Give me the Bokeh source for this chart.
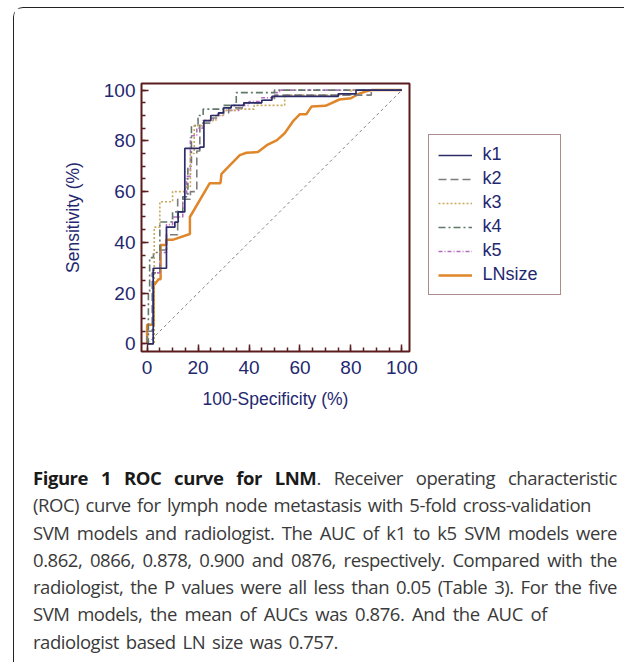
from bokeh.plotting import figure
from bokeh.layouts import column, row
from bokeh.models import Range1d, SingleIntervalTicker, Legend, LegendItem, Div
from bokeh.embed import file_html
from bokeh.resources import INLINE

# ---------------- data ----------------
tick_values = [0, 20, 40, 60, 80, 100]

k1_x = [0, 2.4, 2.4, 7.6, 7.6, 10.9, 10.9, 12.2, 12.2, 14.8, 14.8, 20.7, 20.7, 22.3, 22.3, 25, 25, 28, 28, 30, 30, 33, 33, 38, 38, 45, 45, 49, 49, 75, 75, 82, 82, 88, 100]
k1_y = [0, 0, 29.8, 29.8, 46, 46, 48, 48, 52, 52, 77, 77, 77.5, 77.5, 88, 88, 90, 90, 91, 91, 93, 93, 94, 94, 95, 95, 96, 96, 97.5, 97.5, 98.5, 98.5, 100, 100, 100]

k2_x = [0, 0, 2, 2, 5, 5, 7.6, 7.6, 12, 12, 17, 17, 19.5, 19.5, 20.7, 20.7, 25, 25, 28, 28, 32, 32, 38, 38, 45, 45, 50, 50, 88, 88, 100]
k2_y = [0, 5, 5, 28, 28, 37, 37, 43, 43, 57, 57, 60, 60, 76, 76, 87, 87, 89, 89, 91, 91, 93, 93, 95, 95, 96, 96, 98, 98, 100, 100]

k3_x = [0, 2.8, 2.8, 5, 5, 10, 10, 15, 15, 17, 17, 18.5, 18.5, 22, 22, 27, 27, 30, 30, 35, 35, 42, 42, 54, 54, 80, 80, 100]
k3_y = [0, 0, 46, 46, 56, 56, 60, 60, 62, 62, 75, 75, 86, 86, 88, 88, 90, 90, 92, 92, 92.5, 92.5, 94, 94, 98, 98, 100, 100]

k4_x = [0, 0.5, 0.5, 1, 1, 2.5, 2.5, 5, 5, 10, 10, 14, 14, 16, 16, 17.4, 17.4, 20, 20, 22, 22, 30, 30, 35, 35, 50, 50, 100]
k4_y = [0, 0, 20, 20, 34, 34, 36, 36, 48, 48, 52, 52, 58, 58, 70, 70, 86, 86, 90, 90, 92.5, 92.5, 94, 94, 99, 99, 100, 100]

k5_x = [0, 2.4, 2.4, 5, 5, 7.6, 7.6, 10, 10, 14, 14, 15.5, 15.5, 17, 17, 19.5, 19.5, 22, 22, 26, 26, 30, 30, 36, 36, 40, 40, 45, 45, 50, 50, 52, 52, 100]
k5_y = [0, 0, 28, 28, 36, 36, 47, 47, 50, 50, 58, 58, 66, 66, 82, 82, 85, 85, 88, 88, 90, 90, 92, 92, 94, 94, 95.5, 95.5, 97, 97, 99, 99, 100, 100]

ln_x = [0, 0, 2.6, 2.6, 4.5, 5.3, 5.3, 7.5, 7.5, 10, 16.8, 16.8, 24.6, 28.8, 29.2, 36.4, 39, 43.5, 47, 51, 54, 57.5, 60, 62.5, 64.5, 70, 75.5, 80, 83, 86, 88, 100]
ln_y = [0, 7.5, 7.5, 23, 25.5, 25.5, 39, 39, 41, 41, 43.3, 50, 63.3, 63.3, 67, 74.4, 75.3, 75.6, 78.3, 80.3, 83, 88, 90.5, 90.5, 93.5, 93.8, 96.3, 96.8, 98.5, 99.5, 100, 100]

diag_x = [0, 100]
diag_y = [0, 100]

series_names = ["k1", "k2", "k3", "k4", "k5", "LNsize"]

caption_bold = "Figure 1 ROC curve for LNM"
caption_first_rest = ". Receiver operating characteristic"
caption_lines = [
    "(ROC) curve for lymph node metastasis with 5-fold cross-validation",
    "SVM models and radiologist. The AUC of k1 to k5 SVM models were",
    "0.862, 0866, 0.878, 0.900 and 0876, respectively. Compared with the",
    "radiologist, the P values were all less than 0.05 (Table 3). For the five",
    "SVM models, the mean of AUCs was 0.876. And the AUC of",
    "radiologist based LN size was 0.757.",
]
line_widths = [584, 558, 584, 584, 584, 514, 305]

# ---------------- styles ----------------
MAROON = "#5a1c1c"
NAVY = "#1f2870"
styles = [
    dict(line_color="#2c2c68", line_width=1.7),
    dict(line_color="#7c7c7c", line_width=1.6, line_dash="8 4"),
    dict(line_color="#c9a95c", line_width=1.6, line_dash="2 2"),
    dict(line_color="#62786a", line_width=1.6, line_dash="7 3 2 3"),
    dict(line_color="#b56cc0", line_width=1.6, line_dash="4 2 1 2"),
    dict(line_color="#e0862a", line_width=2.5),
]
series = [(k1_x, k1_y), (k2_x, k2_y), (k3_x, k3_y), (k4_x, k4_y), (k5_x, k5_y), (ln_x, ln_y)]

# ---------------- ROC figure ----------------
H1 = 450
W1 = 405
p = figure(width=W1, height=H1, output_backend="svg", toolbar_location=None,
           x_range=Range1d(-2.2, 103), y_range=Range1d(-3.0, 102.6),
           min_border_left=127, min_border_right=10,
           min_border_top=75, min_border_bottom=107)

p.background_fill_color = "white"
p.border_fill_color = "white"
p.outline_line_color = MAROON
p.outline_line_width = 2
p.xgrid.visible = False
p.ygrid.visible = False

for ax in (p.xaxis[0], p.yaxis[0]):
    ax.ticker = SingleIntervalTicker(interval=20, num_minor_ticks=4)
    ax.axis_line_color = None
    ax.major_tick_line_color = MAROON
    ax.minor_tick_line_color = MAROON
    ax.major_tick_line_width = 1.5
    ax.minor_tick_line_width = 1.5
    ax.major_tick_in = 7
    ax.major_tick_out = 0
    ax.minor_tick_in = 4
    ax.minor_tick_out = 0
    ax.major_label_text_font = "Liberation Sans"
    ax.major_label_text_font_size = "19px"
    ax.major_label_text_color = NAVY
    ax.axis_label_text_font = "Liberation Sans"
    ax.axis_label_text_font_size = "17.5px"
    ax.axis_label_text_font_style = "normal"
    ax.axis_label_text_color = NAVY

p.xaxis.axis_label = "100-Specificity (%)"
p.yaxis.axis_label = "Sensitivity (%)"
p.xaxis.major_label_standoff = 9
p.yaxis.major_label_standoff = 6
p.xaxis.axis_label_standoff = 12
p.yaxis.axis_label_standoff = 18

p.line(diag_x, diag_y, line_color="#7d8090", line_width=1, line_dash="3 3")

for i in [5, 4, 3, 2, 1, 0]:
    xs, ys = series[i]
    p.line(xs, ys, **styles[i])

# ---------------- legend figure (same series, ranges kept off their data) ----------------
W2 = 600 - W1
pl = figure(width=W2, height=H1, output_backend="svg", toolbar_location=None,
            x_axis_type=None, y_axis_type=None, min_border=0,
            x_range=Range1d(1000, 1001), y_range=Range1d(1000, 1001))
pl.outline_line_color = None
pl.xgrid.visible = False
pl.ygrid.visible = False
leg_r = [pl.line(series[i][0], series[i][1], **styles[i]) for i in range(6)]
legend = Legend(items=[LegendItem(label=n, renderers=[r]) for n, r in zip(series_names, leg_r)],
                location=(8.5, 56))
legend.border_line_color = MAROON
legend.border_line_width = 1.5
legend.background_fill_color = "white"
legend.background_fill_alpha = 1
legend.padding = 9
legend.margin = 0
legend.spacing = 3
legend.glyph_width = 34
legend.glyph_height = 20
legend.label_height = 20
legend.label_width = 68
legend.label_standoff = 11
legend.label_text_font = "Liberation Sans"
legend.label_text_font_size = "18px"
legend.label_text_color = NAVY
pl.add_layout(legend)

# ---------------- caption ----------------
line_html = []
for i, w in enumerate(line_widths):
    if i == 0:
        content = f'<b style="color:#1a1a1a">{caption_bold}</b>{caption_first_rest}'
    else:
        content = caption_lines[i - 1]
    line_html.append(f'<div style="white-space:nowrap;width:{w}px;text-align:justify;'
                     f'text-align-last:justify;">{content}</div>')

cap = Div(text=("<div style=\"font-family:'Open Sans';font-size:18.5px;letter-spacing:-0.45px;"
                "line-height:27.3px;color:#3a3a3a;padding:1px 0 0 14px;\">"
                + "".join(line_html) + "</div>"),
          width=600, height=196)

layout = column(row(p, pl, spacing=0), cap, spacing=0,
                styles={"margin-left": "13px", "margin-top": "7px",
                        "border-left": "1.5px solid #222222",
                        "border-top": "1.5px solid #222222",
                        "border-top-left-radius": "10px"})

open("out.html", "w").write(file_html(layout, INLINE))
